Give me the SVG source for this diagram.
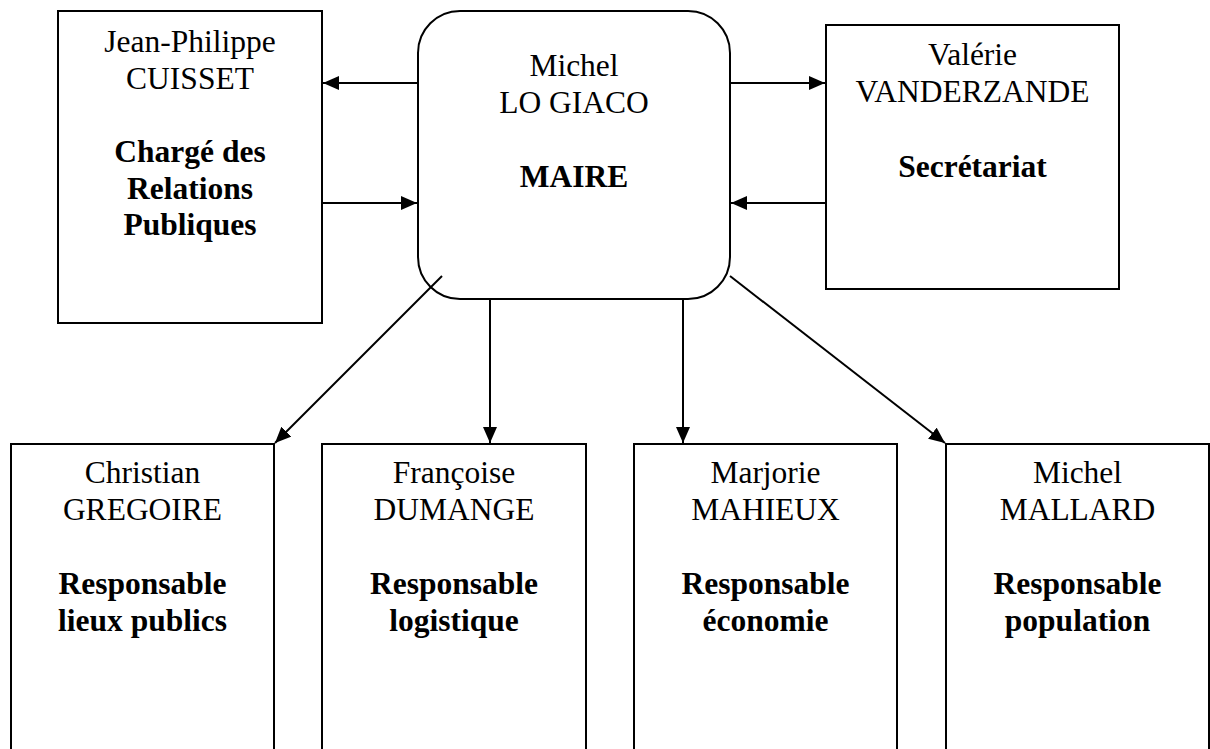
<svg xmlns="http://www.w3.org/2000/svg" width="1210" height="749" viewBox="0 0 1210 749">
<style>
.box{fill:#fff;stroke:#000;stroke-width:2}
.t{font-family:"Liberation Serif","Times New Roman",serif;font-size:31.5px;text-anchor:middle;fill:#000}
.b{font-weight:bold}
.c{stroke:#000;stroke-width:2;fill:none}
</style>
<defs>
<marker id="ah" markerUnits="userSpaceOnUse" markerWidth="16" markerHeight="14" refX="16" refY="7" orient="auto">
<path d="M0,0 L16,7 L0,14 z" fill="#000"/>
</marker>
</defs>
<rect width="1210" height="749" fill="#fff"/>
<g id="n-cuisset">
<rect class="box" x="58" y="11" width="264" height="312"/>
<text class="t" x="190" y="52">Jean-Philippe</text>
<text class="t" x="190" y="89">CUISSET</text>
<text class="t b" x="190" y="162">Chargé des</text>
<text class="t b" x="190" y="199">Relations</text>
<text class="t b" x="190" y="235">Publiques</text>
</g>
<g id="n-maire">
<rect class="box" x="418" y="11" width="312" height="288" rx="42" ry="42"/>
<text class="t" x="574" y="76">Michel</text>
<text class="t" x="574" y="113">LO GIACO</text>
<text class="t b" x="574" y="187">MAIRE</text>
</g>
<g id="n-vanderzande">
<rect class="box" x="826" y="25" width="293" height="264"/>
<text class="t" x="972.5" y="65">Valérie</text>
<text class="t" x="972.5" y="102">VANDERZANDE</text>
<text class="t b" x="972.5" y="177">Secrétariat</text>
</g>
<g id="n-gregoire">
<rect class="box" x="11" y="444" width="263" height="320"/>
<text class="t" x="142.5" y="483">Christian</text>
<text class="t" x="142.5" y="520">GREGOIRE</text>
<text class="t b" x="142.5" y="594">Responsable</text>
<text class="t b" x="142.5" y="631">lieux publics</text>
</g>
<g id="n-dumange">
<rect class="box" x="322" y="444" width="264" height="320"/>
<text class="t" x="454" y="483">Françoise</text>
<text class="t" x="454" y="520">DUMANGE</text>
<text class="t b" x="454" y="594">Responsable</text>
<text class="t b" x="454" y="631">logistique</text>
</g>
<g id="n-mahieux">
<rect class="box" x="634" y="444" width="263" height="320"/>
<text class="t" x="765.5" y="483">Marjorie</text>
<text class="t" x="765.5" y="520">MAHIEUX</text>
<text class="t b" x="765.5" y="594">Responsable</text>
<text class="t b" x="765.5" y="631">économie</text>
</g>
<g id="n-mallard">
<rect class="box" x="946" y="444" width="263" height="320"/>
<text class="t" x="1077.5" y="483">Michel</text>
<text class="t" x="1077.5" y="520">MALLARD</text>
<text class="t b" x="1077.5" y="594">Responsable</text>
<text class="t b" x="1077.5" y="631">population</text>
</g>
<g id="connectors">
<line class="c" x1="418" y1="83" x2="323" y2="83" marker-end="url(#ah)"/>
<line class="c" x1="322" y1="203" x2="417" y2="203" marker-end="url(#ah)"/>
<line class="c" x1="730" y1="83" x2="825" y2="83" marker-end="url(#ah)"/>
<line class="c" x1="826" y1="203" x2="731" y2="203" marker-end="url(#ah)"/>
<line class="c" x1="442" y1="276" x2="275" y2="443" marker-end="url(#ah)"/>
<line class="c" x1="490" y1="299" x2="490" y2="443" marker-end="url(#ah)"/>
<line class="c" x1="683" y1="299" x2="683" y2="443" marker-end="url(#ah)"/>
<line class="c" x1="730" y1="276" x2="945" y2="443" marker-end="url(#ah)"/>
</g>
</svg>
